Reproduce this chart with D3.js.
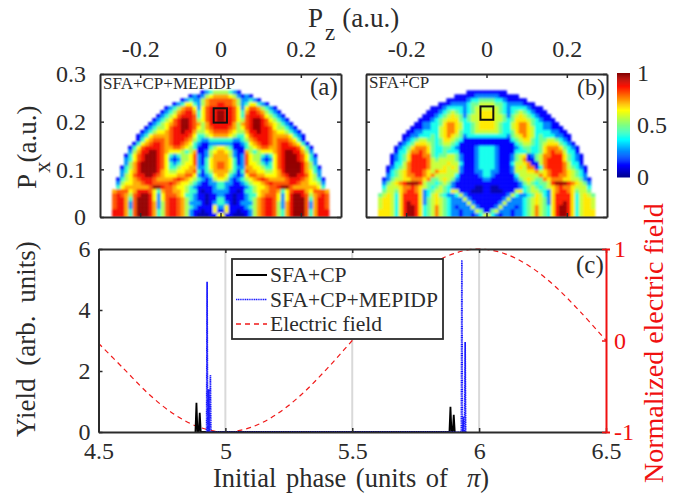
<!DOCTYPE html>
<html>
<head>
<meta charset="utf-8">
<script src="https://cdn.jsdelivr.net/npm/d3@7"></script>
<style>
  html, body { margin: 0; padding: 0; background: #fff; }
  text { font-family: "Liberation Serif", serif; fill: #2b2b2b; }
</style>
</head>
<body>
<script>
// panel maps, one digit per cell, the digit picks a value from levelsA / levelsB
// each row runs from Pz = 0 outward, rows go top to bottom, both sides of Pz = 0 look alike
let levelsA = [0.03, 0.11, 0.26, 0.42, 0.55, 0.64, 0.72, 0.8, 0.88, 0.98];
let levelsB = [0.03, 0.11, 0.24, 0.38, 0.48, 0.58, 0.66, 0.76, 0.86, 0.97];
let rowsA = [
  "44321",
  "66542121",
  "7776422321",
  "877642355321",
  "88875257764321",
  "988753688764321",
  "9887537888754321",
  "98875478998754321",
  "888646789987654321",
  "8876457899887544321",
  "77654468898876554321",
  "665433578888766665321",
  "333223467888767776531",
  "2221123567887678876531",
  "54311134567766788887531",
  "65421164345556789988642",
  "664212754432357899987531",
  "665312754421257899987532",
  "765312755432357899998642",
  "7653226655433578999986431",
  "6643137665544568999986532",
  "6532125776655567899887542",
  "54212345678766667888765431",
  "32211234556787777887665542",
  "32111123455677899766666653",
  "221101334566776357888657776",
  "211011233567775258998746787",
  "311011234678875258999736887",
  "321012224678874268999726887",
  "251111234678874268999726887",
  "151101124678874368999736888",
  "511000124678874368999736888"
];
let rowsB = [
  "11111",
  "22211111",
  "4433211111",
  "554432222111",
  "55543233332111",
  "665432345432111",
  "6655424565432111",
  "66554346665432111",
  "665433567764332211",
  "6654335677653322111",
  "55543346776533332211",
  "333332456765343332211",
  "111111345664344554321",
  "1111111345543456664321",
  "33211112344334677764321",
  "33211113334334678775331",
  "332111245544347788864321",
  "332111245555457888864321",
  "332111355655557888875331",
  "3321112565655578888754321",
  "3221112555667567888765431",
  "3211111355555767887765432",
  "21111112456544767776655421",
  "11111111245434458999876542",
  "10011111234543456787765553",
  "10001115634554326788764554",
  "111112532234653268888635654",
  "111125222345654268888635665",
  "111252222345654268898635665",
  "112522212345754368998635665",
  "145222122345754368998635666",
  "532122122345754368998635666"
];
// right hand side of panel (b) where it differs from the left: dark arc next to the bright streak
let rowsBRight = {
  16: "332111245612457788864321",
  17: "332111245711457888864321",
  18: "332111355671157888875331",
  19: "3321112565771378888754321"
};

let boxPz = [-0.017, 0.016];
let boxPx = [0.198, 0.228];
let boxPzB = [-0.015, 0.017];
let boxPxB = [0.204, 0.232];

let pzTicks = [-0.2, 0, 0.2];
let pxTicks = [0, 0.1, 0.2, 0.3];
let barTicks = [0, 0.5, 1];
let phaseTicks = [4.5, 5, 5.5, 6, 6.5];
let yieldTicks = [0, 2, 4, 6];
let fieldTicks = [-1, 0, 1];
let grayPhases = [5, 5.5, 6];

// spikes
let blackPhase = [4.882, 4.886, 4.89, 4.895, 4.899, 4.903, 5.883, 5.887, 5.891, 5.896, 5.9, 5.904];
let blackYield = [0, 0.96, 0, 0, 0.63, 0, 0, 0.83, 0, 0, 0.56, 0];
let bluePhase = [4.926, 4.928, 4.93, 4.932, 4.934, 4.936, 4.939, 4.941, 4.943, 5.93, 5.932, 5.934, 5.936, 5.938, 5.94, 5.943, 5.945, 5.947];
let blueYield = [0, 4.93, 0, 0, 1.4, 0, 0, 1.87, 0, 0, 5.64, 0, 0, 0.5, 0, 0, 2.95, 0];
let fieldPhase = [4.5, 4.6, 4.7, 4.8, 4.9, 5, 5.1, 5.2, 5.3, 5.4, 5.5, 5.6, 5.7, 5.8, 5.9, 6, 6.1, 6.2, 6.3, 6.4, 6.5];
let fieldValue = [-0.03, -0.31, -0.59, -0.81, -0.95, -1, -0.95, -0.81, -0.59, -0.31, 0, 0.31, 0.59, 0.81, 0.95, 1, 0.95, 0.81, 0.59, 0.31, 0];

let legendNames = ['SFA+CP', 'SFA+CP+MEPIDP', 'Electric field'];

let jet = d3.scaleLinear()
  .domain([0, 0.11, 0.36, 0.5, 0.64, 0.87, 1])
  .range(['#00008f', '#0000ff', '#00ffff', '#80ff80', '#ffff00', '#ff1000', '#800000'])
  .clamp(true);

let dark = '#2b2b2b';

let svg = d3.select('body').append('svg')
  .attr('width', 685).attr('height', 493)
  .style('display', 'block');

let defs = svg.append('defs');
defs.append('filter').attr('id', 'soft')
  .attr('x', '-5%').attr('y', '-5%').attr('width', '110%').attr('height', '110%')
  .append('feGaussianBlur').attr('stdDeviation', 1.2);

let styleAxis = (g, color, size) => {
  g.selectAll('.domain').attr('stroke', color).attr('stroke-width', 2);
  g.selectAll('.tick line').attr('stroke', color).attr('stroke-width', 1.5);
  g.selectAll('.tick text')
    .attr('fill', color).style('fill', color)
    .style('font-family', '"Liberation Serif", serif')
    .style('font-size', size + 'px');
};

let numFmt = (d) => `${d}`;

// one map panel
let drawMap = (id, rows, rightRows, levels, left, right, yTop, yBottom, box, showY) => {
  let x = d3.scaleLinear().domain([-0.3, 0.3]).range([left, right]);
  let y = d3.scaleLinear().domain([0, 0.3]).range([yBottom, yTop]);
  let stepZ = 0.01;
  let stepX = 0.0083;

  let cells = [];
  rows.forEach((row, r) => {
    row.split('').forEach((c, i) => {
      cells.push({ pz: -(i + 1) * stepZ, px: (rows.length - r) * stepX, v: levels[+c] });
    });
    (rightRows[r] || row).split('').forEach((c, i) => {
      cells.push({ pz: i * stepZ, px: (rows.length - r) * stepX, v: levels[+c] });
    });
  });

  defs.append('clipPath').attr('id', 'clip' + id)
    .append('rect')
    .attr('x', left).attr('y', yTop)
    .attr('width', right - left).attr('height', yBottom - yTop);

  svg.append('g')
    .attr('clip-path', `url(#clip${id})`)
    .append('g')
    .attr('filter', 'url(#soft)')
    .selectAll('rect')
    .data(cells)
    .enter()
    .append('rect')
    .attr('x', (d) => x(d.pz))
    .attr('y', (d) => y(d.px))
    .attr('width', x(stepZ) - x(0) + 0.4)
    .attr('height', y(0) - y(stepX) + 0.4)
    .attr('fill', (d) => jet(d.v));

  svg.append('rect')
    .attr('x', x(box[0])).attr('y', y(box[3]))
    .attr('width', x(box[1]) - x(box[0]))
    .attr('height', y(box[2]) - y(box[3]))
    .attr('fill', 'none').attr('stroke', '#111').attr('stroke-width', 2);

  let top = svg.append('g').attr('transform', `translate(0,${yTop})`)
    .call(d3.axisTop(x).tickValues(pzTicks).tickSizeInner(-4).tickSizeOuter(0).tickPadding(17).tickFormat(numFmt));
  styleAxis(top, dark, 24);
  let bot = svg.append('g').attr('transform', `translate(0,${yBottom})`)
    .call(d3.axisBottom(x).tickValues(pzTicks).tickSizeInner(-4).tickSizeOuter(0).tickFormat(''));
  styleAxis(bot, dark, 24);
  let l = svg.append('g').attr('transform', `translate(${left},0)`)
    .call(d3.axisLeft(y).tickValues(pxTicks).tickSizeInner(-4).tickSizeOuter(0).tickPadding(14)
      .tickFormat(showY ? numFmt : ''));
  styleAxis(l, dark, 24);
  let r = svg.append('g').attr('transform', `translate(${right},0)`)
    .call(d3.axisRight(y).tickValues(pxTicks).tickSizeInner(-4).tickSizeOuter(0).tickFormat(''));
  styleAxis(r, dark, 24);
};

drawMap('a', rowsA, {}, levelsA, 100, 341, 74, 217, [boxPz[0], boxPz[1], boxPx[0], boxPx[1]], true);
drawMap('b', rowsB, rowsBRight, levelsB, 366, 607, 74, 217, [boxPzB[0], boxPzB[1], boxPxB[0], boxPxB[1]], false);

// colour bar
let barScale = d3.scaleLinear().domain([0, 1]).range([177, 73]);
svg.append('g').selectAll('rect')
  .data(d3.range(0, 1, 0.01))
  .enter()
  .append('rect')
  .attr('x', 617).attr('width', 13)
  .attr('y', (d) => barScale(d + 0.01))
  .attr('height', barScale(0) - barScale(0.01) + 0.5)
  .attr('fill', (d) => jet(d));
let barAxis = svg.append('g').attr('transform', 'translate(630,0)')
  .call(d3.axisRight(barScale).tickValues(barTicks).tickSize(0).tickPadding(7).tickFormat(numFmt));
barAxis.select('.domain').remove();
styleAxis(barAxis, dark, 24);

// panel (c)
let xC = d3.scaleLinear().domain([4.5, 6.5]).range([98.5, 606]);
let yC = d3.scaleLinear().domain([0, 6]).range([432, 249]);
let yField = d3.scaleLinear().domain([-1, 1]).range([432, 249]);

svg.append('g').selectAll('line')
  .data(grayPhases)
  .enter()
  .append('line')
  .attr('x1', (d) => xC(d)).attr('x2', (d) => xC(d))
  .attr('y1', yC(0)).attr('y2', yC(6))
  .attr('stroke', '#d9d9d9').attr('stroke-width', 2);

let zip = (a, b) => a.map((v, i) => [v, b[i]]);

svg.append('path')
  .datum(zip(fieldPhase, fieldValue))
  .attr('fill', 'none').attr('stroke', '#f01818').attr('stroke-width', 1.2)
  .attr('stroke-dasharray', '5,4')
  .attr('d', d3.line().x((d) => xC(d[0])).y((d) => yField(d[1])).curve(d3.curveCatmullRom));

let spikeLine = d3.line().x((d) => xC(d[0])).y((d) => yC(d[1]));
svg.append('path')
  .datum(zip(blackPhase, blackYield))
  .attr('fill', 'none').attr('stroke', '#000').attr('stroke-width', 1.8)
  .attr('d', spikeLine);
svg.append('path')
  .datum(zip(bluePhase, blueYield))
  .attr('fill', 'none').attr('stroke', '#1a1aff').attr('stroke-width', 1.7)
  .attr('stroke-dasharray', '1.2,0.6')
  .attr('d', spikeLine);

let botC = svg.append('g').attr('transform', `translate(0,${yC(0)})`)
  .call(d3.axisBottom(xC).tickValues(phaseTicks).tickSizeInner(-4).tickSizeOuter(0).tickPadding(9.5).tickFormat(numFmt));
styleAxis(botC, dark, 24);
let topC = svg.append('g').attr('transform', `translate(0,${yC(6)})`)
  .call(d3.axisTop(xC).tickValues(phaseTicks).tickSizeInner(-4).tickSizeOuter(0).tickFormat(''));
styleAxis(topC, dark, 24);
let leftC = svg.append('g').attr('transform', `translate(${xC(4.5)},0)`)
  .call(d3.axisLeft(yC).tickValues(yieldTicks).tickSizeInner(-4).tickSizeOuter(0).tickPadding(8).tickFormat(numFmt));
styleAxis(leftC, dark, 24);
let rightC = svg.append('g').attr('transform', `translate(${xC(6.5)},0)`)
  .call(d3.axisRight(yField).tickValues(fieldTicks).tickSizeInner(-4).tickSizeOuter(4).tickPadding(8)
    .tickFormat(numFmt));
styleAxis(rightC, '#f01010', 24);

// legend
let legend = svg.append('g');
legend.append('rect')
  .attr('x', 232).attr('y', 259).attr('width', 211).attr('height', 80)
  .attr('fill', '#fff').attr('stroke', dark).attr('stroke-width', 1.8);
let legendY = [275, 299.5, 324];
let legendStroke = ['#000', '#1a1aff', '#f01818'];
let legendDash = [null, '1.2,0.6', '5,4'];
legendNames.forEach((name, i) => {
  legend.append('line')
    .attr('x1', 236).attr('x2', 267)
    .attr('y1', legendY[i]).attr('y2', legendY[i])
    .attr('stroke', legendStroke[i])
    .attr('stroke-width', i == 0 ? 2 : 1.5)
    .attr('stroke-dasharray', legendDash[i]);
  legend.append('text')
    .attr('x', 270).attr('y', legendY[i] + 7)
    .style('font-size', '21.6px')
    .text(name);
});

// labels
let label = (x, y, txt, size, color, rotate) => {
  let t = svg.append('text')
    .attr('x', x).attr('y', y)
    .style('font-size', size + 'px')
    .text(txt);
  if (color) t.style('fill', color);
  if (rotate) t.attr('transform', `rotate(-90 ${x} ${y})`);
  return t;
};

label(103, 89, 'SFA+CP+MEPIDP', 17);
label(369, 88, 'SFA+CP', 17);
label(310, 95, '(a)', 25);
label(577, 95, '(b)', 24);
label(576, 273, '(c)', 25);

// Pz title
let pz = label(308, 27, 'P', 27);
pz.append('tspan').attr('dy', 13).attr('dx', 2).style('font-size', '23px').text('z');
pz.append('tspan').attr('dy', -13).attr('dx', 7).text('(a.u.)');

// Px title
let px = label(36, 189, 'P', 27, null, true);
px.append('tspan').attr('dy', 14).attr('dx', 1).style('font-size', '23px').text('x');
px.append('tspan').attr('dy', -14).attr('dx', -1).text('(a.u.)');

label(35, 437, 'Yield (arb. units)', 27, null, true).style('word-spacing', '6px');
let xTitle = label(213, 487, 'Initial phase (units of', 26.5).style('word-spacing', '3px');
xTitle.append('tspan').attr('x', 467).style('font-style', 'italic').text('π');
xTitle.append('tspan').text(')');
label(663, 483, 'Normalized electric field', 28, '#f01010', true);
</script>
</body>
</html>
